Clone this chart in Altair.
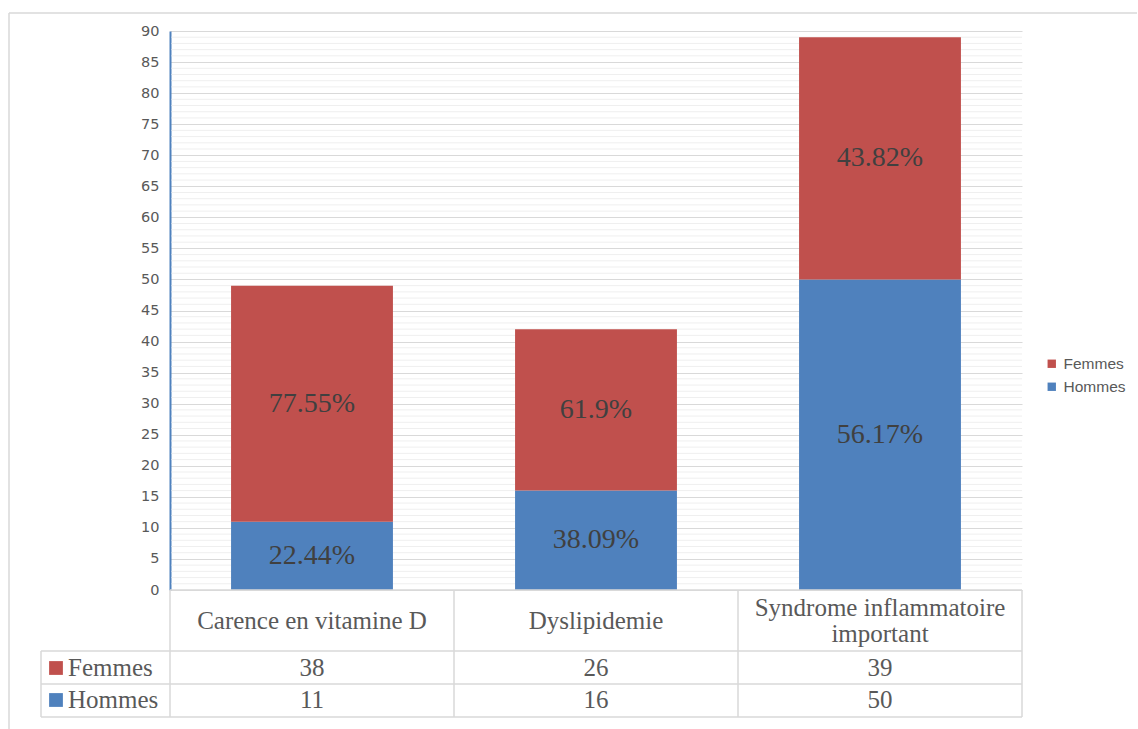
import altair as alt
import pandas as pd

# ---- data -------------------------------------------------------------
categories = ["Carence en vitamine D", "Dyslipidemie", "Syndrome inflammatoire important"]
header_text = ["Carence en vitamine D", "Dyslipidemie", "Syndrome inflammatoire\nimportant"]
femmes = [38, 26, 39]
hommes = [11, 16, 50]
pct_femmes = ["77.55%", "61.9%", "43.82%"]
pct_hommes = ["22.44%", "38.09%", "56.17%"]
y_ticks = list(range(0, 91, 5))

RED = "#C0504D"
BLUE = "#4F81BD"
GRID = "#d9d9d9"
TEXT = "#595959"
SERIF = "Liberation Serif"
SANS = "Liberation Sans"

W, H = 852, 559
COL = W / 3
HEAD_LH = 26

# stacked segments: Hommes at the bottom, Femmes on top
rows = []
for c, f, h, pf, ph in zip(categories, femmes, hommes, pct_femmes, pct_hommes):
    rows.append(dict(cat=c, sexe="Hommes", low=0, high=h, mid=h / 2, pct=ph))
    rows.append(dict(cat=c, sexe="Femmes", low=h, high=h + f, mid=h + f / 2, pct=pf))
seg = pd.DataFrame(rows)

table = pd.DataFrame(dict(
    cat=categories, header=header_text,
    hy=[590 - HEAD_LH / 2 * (t.count("\n")) for t in header_text],
    f=[str(v) for v in femmes], h=[str(v) for v in hommes]))

minor = pd.DataFrame(dict(v=[v for v in range(1, 90) if v % 5]))

x_enc = alt.X("cat:N", sort=categories, axis=None,
              scale=alt.Scale(domain=categories, paddingInner=0.43, paddingOuter=0.215))
y_scale = alt.Scale(domain=[0, 90], nice=False, zero=True)
y_axis = alt.Axis(values=y_ticks, grid=True, gridColor=GRID, gridWidth=1,
                  ticks=False, domainColor=BLUE, domainWidth=2,
                  labelFont="DejaVu Sans", labelFontSize=14.5, labelColor=TEXT,
                  labelPadding=11, labelOverlap=False, title=None)
color_scale = alt.Scale(domain=["Femmes", "Hommes"], range=[RED, BLUE])

# light minor gridlines every unit
minor_grid = alt.Chart(minor).mark_rule(color="#efefef", strokeWidth=1).encode(
    x=alt.value(1.5), x2=alt.value(W),
    y=alt.Y("v:Q", scale=y_scale, axis=y_axis, title=None)
)

bars = alt.Chart(seg).mark_bar().encode(
    x=x_enc,
    y=alt.Y("low:Q", scale=y_scale, axis=y_axis, title=None),
    y2="high:Q",
    color=alt.Color("sexe:N", scale=color_scale, title=None,
                    legend=alt.Legend(orient="none", legendX=874, legendY=325,
                                      symbolType="square", symbolSize=70,
                                      symbolStrokeWidth=0, labelFont=SANS,
                                      labelFontSize=15.5, labelColor=TEXT,
                                      rowPadding=6)),
)

pct_labels = alt.Chart(seg).mark_text(font=SERIF, fontSize=28, color="#404040",
                                      baseline="middle").encode(
    x=x_enc,
    y=alt.Y("mid:Q", scale=y_scale, axis=y_axis, title=None),
    text="pct:N",
)

# data table under the bars
head = alt.Chart(table).mark_text(font=SERIF, fontSize=25, color=TEXT, baseline="middle",
                                  lineBreak="\n", lineHeight=HEAD_LH).encode(
    x=x_enc, y=alt.Y("hy:Q", scale=None), text="header:N")
row_f = alt.Chart(table).mark_text(font=SERIF, fontSize=25, color=TEXT,
                                   baseline="middle").encode(
    x=x_enc, y=alt.value(637), text="f:N")
row_h = alt.Chart(table).mark_text(font=SERIF, fontSize=25, color=TEXT,
                                   baseline="middle").encode(
    x=x_enc, y=alt.value(669), text="h:N")

row_names = pd.DataFrame(dict(name=["Femmes", "Hommes"], y=[637, 669], c=[RED, BLUE]))
row_keys = alt.Chart(row_names).mark_square(size=190, opacity=1).encode(
    x=alt.value(-114), y=alt.Y("y:Q", scale=None),
    color=alt.Color("c:N", scale=None))
row_text = alt.Chart(row_names).mark_text(font=SERIF, fontSize=25, color=TEXT,
                                          align="left", baseline="middle").encode(
    x=alt.value(-102), y=alt.Y("y:Q", scale=None), text="name:N")

lines = []
for yy in (620, 653, 686):
    lines.append(dict(x=-129, x2=W, y=yy, y2=yy))
lines.append(dict(x=0, x2=W, y=H, y2=H))
for k in range(4):
    lines.append(dict(x=k * COL, x2=k * COL, y=H, y2=686))
lines.append(dict(x=-129, x2=-129, y=620, y2=686))
grid_lines = alt.Chart(pd.DataFrame(lines)).mark_rule(color=GRID, strokeWidth=1.5).encode(
    x=alt.X("x:Q", scale=None), x2="x2:Q",
    y=alt.Y("y:Q", scale=None), y2="y2:Q")

# chart frame (left and top edges)
frame = pd.DataFrame([dict(x=-161, x2=-161, y=-18, y2=698),
                      dict(x=-161, x2=967, y=-18, y2=-18)])
frame_lines = alt.Chart(frame).mark_rule(color=GRID, strokeWidth=1.5).encode(
    x=alt.X("x:Q", scale=None), x2="x2:Q",
    y=alt.Y("y:Q", scale=None), y2="y2:Q")

chart = alt.layer(
    minor_grid, bars, pct_labels, grid_lines, head, row_f, row_h, row_keys, row_text,
    frame_lines
).properties(
    width=W, height=H,
    padding={"left": 8, "top": 12, "right": 0, "bottom": 0},
    background="white",
).configure_view(strokeWidth=0)

chart.save("out.html", embed_options={"renderer": "svg", "actions": False})
